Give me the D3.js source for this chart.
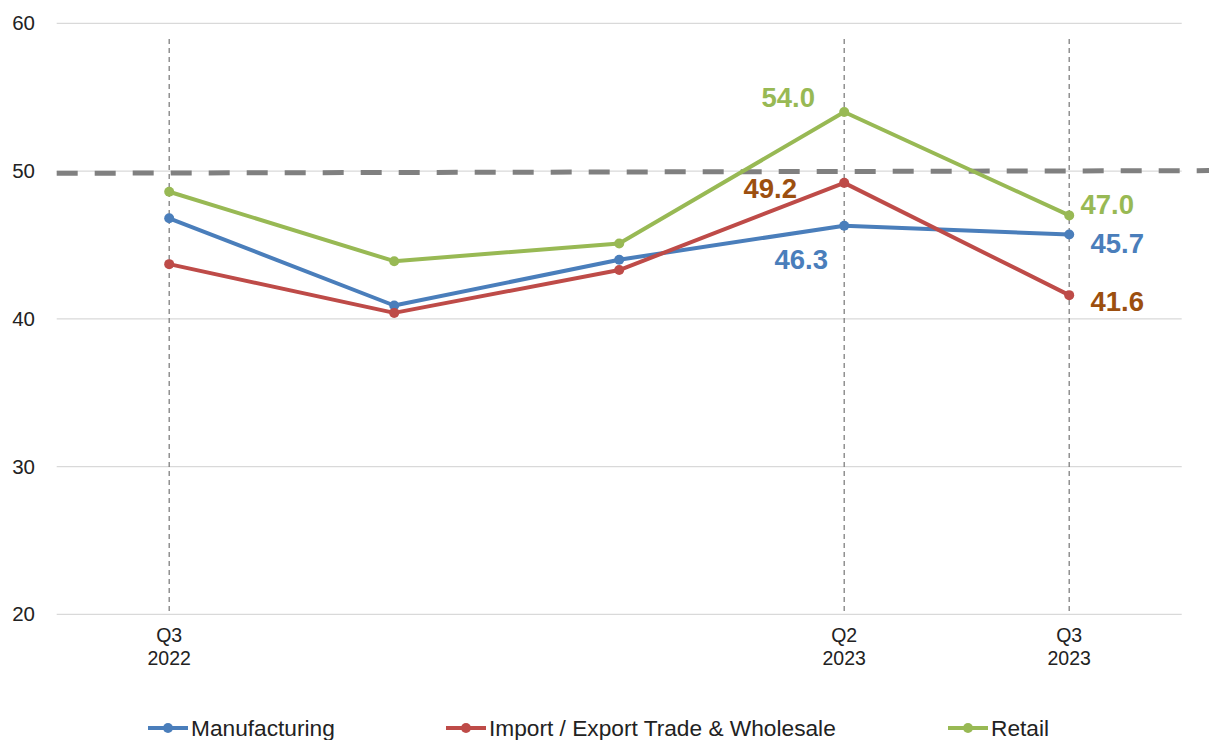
<!DOCTYPE html>
<html>
<head>
<meta charset="utf-8">
<script src="https://cdn.jsdelivr.net/npm/d3@7"></script>
<style>
  html, body { margin: 0; padding: 0; background: #ffffff; }
  svg { display: block; font-family: Arial, "Liberation Sans", sans-serif; }
</style>
</head>
<body>
<svg id="chart" width="1209" height="740"></svg>
<script>
// Quarterly index readings by sector
const quarters = ["Q3 2022", "Q4 2022", "Q1 2023", "Q2 2023", "Q3 2023"];
const tickLabels = [["Q3", "2022"], [], [], ["Q2", "2023"], ["Q3", "2023"]];
const markedQuarters = ["Q3 2022", "Q2 2023", "Q3 2023"];
const yTicks = [20, 30, 40, 50, 60];

const manufacturing = [46.8, 40.9, 44.0, 46.3, 45.7];
const tradeWholesale = [43.7, 40.4, 43.3, 49.2, 41.6];
const retail = [48.6, 43.9, 45.1, 54.0, 47.0];

// 50 = neutral threshold (drawn slightly tilted, left to right)
const thresholdEnds = [49.85, 50.03];

const seriesNames = ["Manufacturing", "Import / Export Trade & Wholesale", "Retail"];
const seriesColors = ["#4a7ebb", "#be4b48", "#98b954"];
const labelColors = ["#4a7ebb", "#9c4f0f", "#98b954"];

// which points carry a value label, with offsets from the point
const valueLabels = [
  { s: 2, i: 3, dx: -56, dy: -5 },
  { s: 1, i: 3, dx: -74, dy: 15 },
  { s: 0, i: 3, dx: -43, dy: 43 },
  { s: 2, i: 4, dx: 38, dy: -1 },
  { s: 0, i: 4, dx: 48, dy: 18 },
  { s: 1, i: 4, dx: 48, dy: 16 }
];

(function drawChart() {
  const series = [manufacturing, tradeWholesale, retail].map((vals, k) => ({
    name: seriesNames[k], color: seriesColors[k], labelColor: labelColors[k],
    values: vals.map((v, i) => ({ q: quarters[i], v }))
  }));

  const svg = d3.select("#chart");
  const W = 1209;
  const plotLeft = 56.7, plotRight = 1181.7, plotTop = 23.3, plotBottom = 614.3;

  const x = d3.scalePoint().domain(quarters).range([plotLeft, plotRight]).padding(0.5);
  const y = d3.scaleLinear().domain([20, 60]).range([plotBottom, plotTop]);

  // horizontal gridlines
  svg.append("g").selectAll("line").data(yTicks).join("line")
    .attr("x1", plotLeft).attr("x2", plotRight)
    .attr("y1", d => y(d)).attr("y2", d => y(d))
    .attr("stroke", "#d9d9d9").attr("stroke-width", 1.3);

  // y axis labels
  svg.append("g").selectAll("text").data(yTicks).join("text")
    .attr("x", 35).attr("y", d => y(d) + 7)
    .attr("text-anchor", "end")
    .attr("font-size", 20.5).attr("fill", "#222")
    .text(d => d);

  // vertical dashed markers at labelled quarters
  svg.append("g").selectAll("line").data(markedQuarters).join("line")
    .attr("x1", d => x(d)).attr("x2", d => x(d))
    .attr("y1", 39).attr("y2", plotBottom)
    .attr("stroke", "#7f7f7f").attr("stroke-width", 1.3)
    .attr("stroke-dasharray", "5,4");

  // threshold line
  svg.append("line")
    .attr("x1", plotLeft).attr("x2", W)
    .attr("y1", y(thresholdEnds[0])).attr("y2", y(thresholdEnds[1]))
    .attr("stroke", "#808080").attr("stroke-width", 5)
    .attr("stroke-dasharray", "21,17");

  // x axis labels
  const xl = svg.append("g").selectAll("text").data(quarters).join("text")
    .attr("x", d => x(d)).attr("y", 641.5)
    .attr("text-anchor", "middle").attr("font-size", 19.5).attr("fill", "#222");
  xl.each(function(d, i) {
    const t = d3.select(this);
    tickLabels[i].forEach((ln, j) => {
      t.append("tspan").attr("x", x(d)).attr("dy", j === 0 ? 0 : 23.5).text(ln);
    });
  });

  // series lines and markers
  const line = d3.line().x(d => x(d.q)).y(d => y(d.v));
  const sg = svg.append("g").selectAll("g").data(series).join("g");
  sg.append("path")
    .attr("d", d => line(d.values))
    .attr("fill", "none").attr("stroke", d => d.color)
    .attr("stroke-width", 4).attr("stroke-linejoin", "round");
  sg.selectAll("circle").data(d => d.values.map(p => ({ ...p, color: d.color }))).join("circle")
    .attr("cx", d => x(d.q)).attr("cy", d => y(d.v)).attr("r", 5)
    .attr("fill", d => d.color);

  // value labels
  svg.append("g").selectAll("text").data(valueLabels).join("text")
    .attr("x", d => x(quarters[d.i]) + d.dx)
    .attr("y", d => y(series[d.s].values[d.i].v) + d.dy)
    .attr("text-anchor", "middle")
    .attr("font-size", 27.5).attr("font-weight", "bold")
    .attr("fill", d => series[d.s].labelColor)
    .text(d => series[d.s].values[d.i].v.toFixed(1));

  // legend
  const legendX = [148, 446, 948];
  const lg = svg.append("g").selectAll("g").data(series).join("g")
    .attr("transform", (d, i) => `translate(${legendX[i]},728)`);
  lg.append("line").attr("x1", 0).attr("x2", 40).attr("y1", 0).attr("y2", 0)
    .attr("stroke", d => d.color).attr("stroke-width", 4);
  lg.append("circle").attr("cx", 20).attr("cy", 0).attr("r", 5).attr("fill", d => d.color);
  lg.append("text").attr("x", 43).attr("y", 8)
    .attr("font-size", 22.7).attr("fill", "#222")
    .text(d => d.name);
})();
</script>
</body>
</html>
